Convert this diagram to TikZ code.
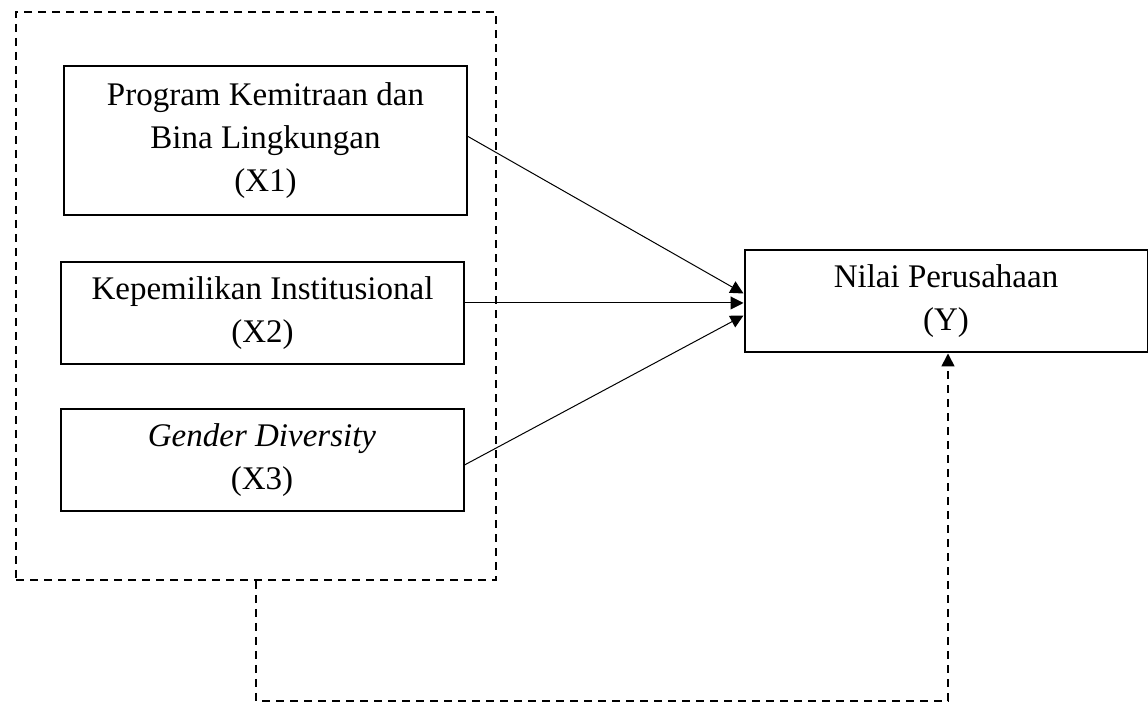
\documentclass[tikz,border=0pt]{standalone}
\usepackage{fontspec}
\setmainfont{Liberation Serif}
\usetikzlibrary{arrows.meta}

\begin{document}
\begin{tikzpicture}[x=0.5pt,y=-0.5pt,
    varbox/.style={draw,line width=1pt,minimum width=201.5pt,minimum height=51pt,
        align=center,inner sep=0pt,font=\fontsize{16.5}{21.5}\selectfont},
    groupbox/.style={draw,dash pattern=on 4pt off 3pt,line width=0.8pt,
        minimum width=240pt,minimum height=284pt,inner sep=0pt},
    effect/.style={line width=0.5pt,-{Triangle[length=6.5pt,width=6.5pt]}},
    feedback/.style={line width=0.8pt,dash pattern=on 4pt off 3pt,-{Triangle[length=6.5pt,width=6.5pt]}}]
    \useasboundingbox (0,0) rectangle (1148,704);

    % Group of independent variables
    \node[groupbox] (grp) at (256,296) {};

    % Variables
    \node[varbox,minimum height=74.5pt] (x1) at (265.5,140.5) {Program Kemitraan dan\\Bina Lingkungan\\(X1)};
    \node[varbox] (x2) at (262.5,313) {Kepemilikan Institusional\\(X2)};
    \node[varbox] (x3) at (262,460) {\textit{Gender Diversity}\\(X3)};
    \node[varbox] (y) at (946,301.5) {Nilai Perusahaan\\(Y)};

    % Partial effects
    \draw[effect] ([yshift=2pt]x1.east) -- ([yshift=4pt]y.west);
    \draw[effect] ([yshift=5pt]x2.east) -- ([yshift=-0.75pt]y.west);
    \draw[effect] ([yshift=-2.5pt]x3.east) -- ([yshift=-7pt]y.west);

    % Simultaneous effect
    \draw[feedback] (grp.south) -- ++(0,120) -| ([xshift=1pt]y.south);
\end{tikzpicture}
\end{document}
